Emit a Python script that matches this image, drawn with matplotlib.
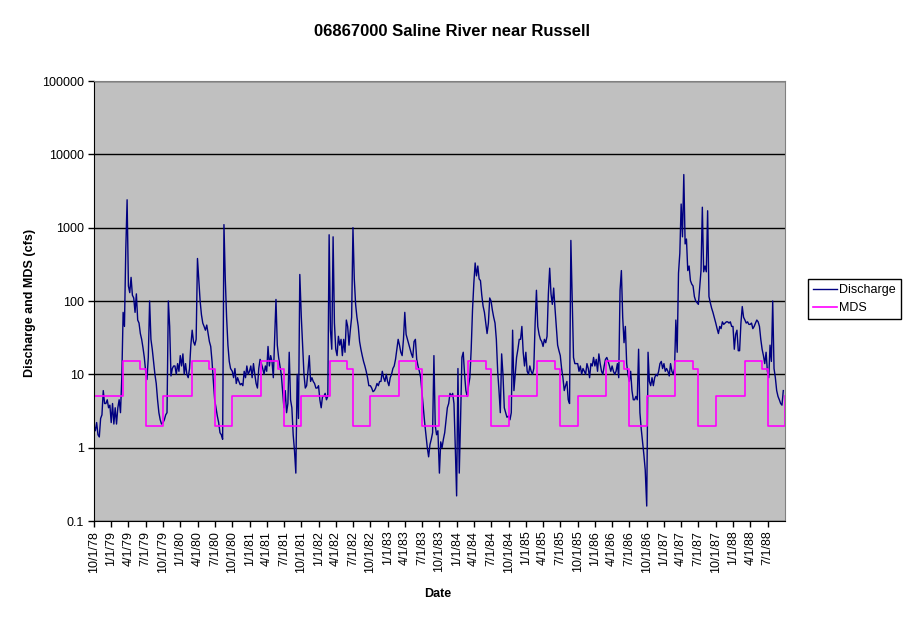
import numpy as np
import pandas as pd
import matplotlib
matplotlib.use('Agg')
import matplotlib.pyplot as plt

# weekly discharge (cfs), one list per water year (Oct-Sep)
q_wy1979 = [2.0, 1.7, 2.2, 1.5, 1.4, 2.5, 2.8, 6.0, 4.0, 4.0, 4.5, 3.5, 3.8,
            2.2, 4.0, 2.1, 3.5, 2.1, 3.5, 4.5, 3.0, 9.0, 70, 45, 500, 2400,
            160, 130, 210, 120, 110, 70, 125, 55, 50, 36, 30, 23, 17,
            11, 8.5, 17, 100, 30, 22, 15, 10, 7.5, 4.5, 3.0, 2.4, 2.1]
q_wy1980 = [2.2, 2.4, 2.8, 3.0, 100, 45, 9.5, 12, 13, 13, 10, 14, 11,
            18, 13, 19, 10, 14, 10, 9, 12, 25, 40, 28, 25, 30,
            380, 190, 100, 65, 50, 45, 40, 47, 36, 28, 24, 15, 8,
            4.5, 3.5, 2.7, 2.2, 1.6, 1.5, 1.3, 1100, 200, 60, 25, 15, 12]
q_wy1981 = [11, 9, 12, 7.5, 9, 8, 7.2, 7.5, 7, 11, 9, 13, 10,
            11, 13, 9, 14, 10, 7.5, 6.5, 12, 16, 14, 12, 10, 13,
            11, 24, 13, 18, 15, 9, 32, 105, 25, 17, 13, 10, 6,
            3.5, 6, 3, 4, 20, 4.5, 3.5, 1.5, 0.9, 0.45, 10, 2.5, 230]
q_wy1982 = [60, 25, 10, 6.5, 7, 11, 18, 8, 9, 8, 7.5, 6.5, 6.5,
            7, 4.5, 3.5, 5, 5, 5.5, 4.5, 5, 800, 40, 22, 750, 50,
            22, 18, 33, 25, 30, 18, 30, 20, 55, 45, 25, 40, 60,
            1000, 200, 90, 60, 45, 28, 22, 18, 15, 13, 11, 9, 7]
q_wy1983 = [7, 6.5, 5.8, 6, 6.5, 7.5, 7, 8, 8, 11, 9, 8, 10,
            8, 7, 9, 10, 12, 13, 16, 22, 30, 25, 20, 18, 30,
            70, 35, 30, 26, 22, 19, 17, 28, 30, 16, 13, 11, 9,
            5.5, 3.5, 2.2, 1.5, 1.0, 0.75, 1.1, 1.3, 1.6, 18, 2.0, 1.5, 1.7]
q_wy1984 = [0.45, 1.2, 1.0, 1.3, 1.6, 2.4, 3.5, 4, 5.5, 5, 5.5, 4, 1.0,
            0.22, 12, 0.45, 2.5, 17, 20, 10, 6, 5, 7, 9, 22, 75,
            175, 330, 220, 300, 200, 190, 120, 85, 70, 50, 36, 50, 110,
            100, 75, 60, 50, 30, 11, 6, 3, 19, 10, 3.5, 3.0, 2.6]
q_wy1985 = [2.7, 2.4, 3, 40, 6, 10, 17, 22, 30, 30, 45, 20, 13,
            20, 11, 10, 13, 11, 10, 12, 50, 140, 45, 35, 30, 28,
            24, 30, 27, 33, 125, 280, 125, 90, 150, 80, 45, 25, 21,
            18, 12, 9, 6, 7, 8, 4.5, 4, 670, 100, 17, 14, 14]
q_wy1986 = [14, 11, 13, 10, 12, 11, 10, 14, 12, 9, 14, 13, 17,
            13, 16, 11, 19, 14, 11, 10, 13, 16, 17, 15, 13, 11,
            13, 11, 10, 11, 14, 9, 140, 260, 60, 27, 45, 14, 10,
            8, 11, 6, 4.5, 4.5, 5, 4.5, 22, 3, 1.8, 1.2, 0.8, 0.5]
q_wy1987 = [0.16, 20, 8, 7, 9, 7, 9, 10, 9.5, 11, 14, 15, 12,
            14, 11, 12, 11, 9.5, 14, 11, 10, 12, 55, 20, 240, 450,
            2100, 750, 5300, 600, 700, 260, 300, 190, 170, 160, 115, 100, 95,
            90, 150, 260, 1900, 250, 300, 250, 1700, 115, 95, 80, 70, 60]
q_wy1988 = [50, 42, 36, 45, 42, 52, 48, 50, 52, 52, 50, 52, 45,
            45, 22, 35, 40, 21, 21, 50, 84, 60, 55, 50, 52, 48,
            48, 50, 42, 45, 50, 55, 52, 45, 30, 22, 18, 14, 20,
            11, 9, 25, 15, 100, 12, 9, 6, 5, 4.5, 4, 3.8, 6]

water_years = [1979, 1980, 1981, 1982, 1983, 1984, 1985, 1986, 1987, 1988]
discharge_by_wy = [q_wy1979, q_wy1980, q_wy1981, q_wy1982, q_wy1983,
                   q_wy1984, q_wy1985, q_wy1986, q_wy1987, q_wy1988]

# monthly MDS (cfs), Oct..Sep, same every water year
mds_month = [5, 5, 5, 5, 5, 15, 15, 15, 12, 2, 2, 2]

dates = []
flows = []
for wy, q in zip(water_years, discharge_by_wy):
    dates.extend(pd.date_range(f'{wy - 1}-10-01', periods=len(q), freq='7D'))
    flows.extend(q)
dates = pd.DatetimeIndex(dates)
flows = np.array(flows)

mds_dates = pd.date_range('1978-10-01', '1988-10-01', freq='MS')
mds_vals = np.append(np.tile(mds_month, len(water_years)), mds_month[0])

plt.rcParams['font.family'] = ['Liberation Sans', 'DejaVu Sans']

fig = plt.figure(figsize=(9.11, 6.23), dpi=100)
ax = fig.add_axes([94 / 911, 1 - 521 / 623, 691 / 911, 440 / 623])
ax.set_facecolor('#C0C0C0')

line_q, = ax.plot(dates, flows, color='#000080', lw=1.0, label='Discharge')
line_m, = ax.step(mds_dates, mds_vals, where='post', color='#FF00FF', lw=1.2, label='MDS')

ax.set_yscale('log')
ax.set_ylim(0.1, 100000)
yt = [0.1, 1, 10, 100, 1000, 10000, 100000]
ax.set_yticks(yt)
ax.set_yticklabels(['0.1', '1', '10', '100', '1000', '10000', '100000'])
ax.yaxis.set_minor_locator(plt.NullLocator())
ax.yaxis.grid(True, color='black', lw=1)
ax.set_axisbelow(True)

ax.set_xlim(pd.Timestamp('1978-10-01'), pd.Timestamp('1988-10-01'))
xt = pd.date_range('1978-10-01', '1988-07-01', freq='QS-JAN')
ax.set_xticks(xt)
ax.set_xticklabels([f'{d.month}/{d.day}/{d.year % 100:02d}' for d in xt], rotation=90)
ax.xaxis.set_minor_locator(plt.NullLocator())

ax.tick_params(direction='out', length=4, width=1, color='black', labelsize=9, pad=3)
for s in ['left', 'bottom']:
    ax.spines[s].set_color('black')
for s in ['top', 'right']:
    ax.spines[s].set_color('#808080')

fig.text(452 / 911, 1 - 31 / 623, '06867000 Saline River near Russell',
         ha='center', va='center', fontsize=12, fontweight='bold')
fig.text(30 / 911, 1 - 303 / 623, 'Discharge and MDS (cfs)', rotation=90,
         ha='center', va='center', fontsize=9, fontweight='bold')
fig.text(438 / 911, 1 - 594 / 623, 'Date', ha='center', va='center',
         fontsize=9, fontweight='bold')

leg = fig.legend(handles=[line_q, line_m], loc='upper left',
                 bbox_to_anchor=(808 / 911, 1 - 279 / 623), borderaxespad=0,
                 fontsize=9, fancybox=False, framealpha=1, edgecolor='black',
                 handlelength=1.9, handletextpad=0.2, labelspacing=0.5, borderpad=0.4)
leg.get_frame().set_linewidth(1)

fig.savefig('out.png', dpi=100)
